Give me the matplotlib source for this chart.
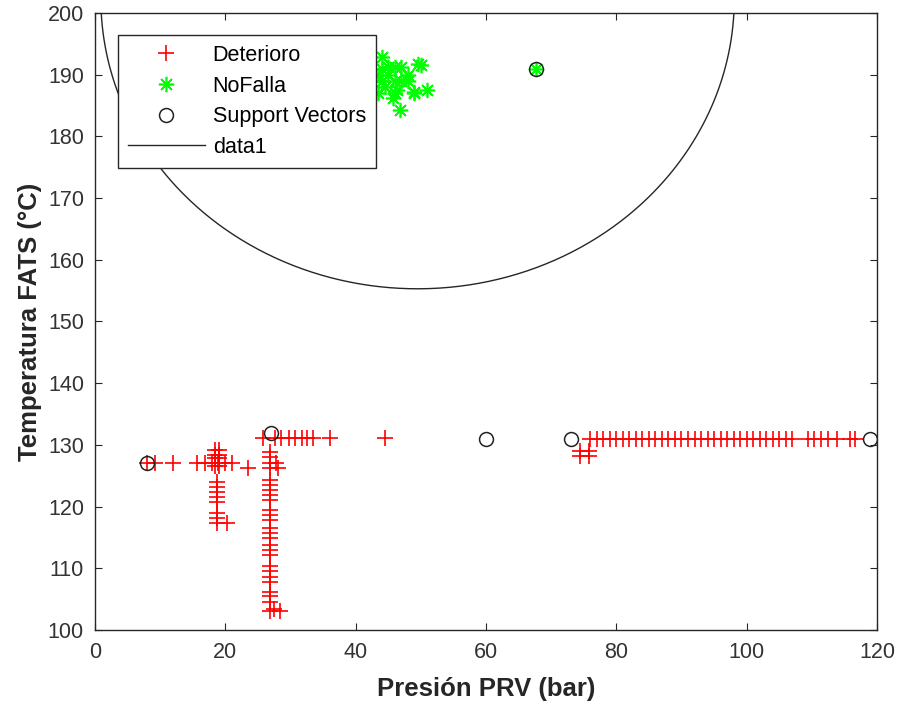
import numpy as np
import matplotlib
matplotlib.use("Agg")
import matplotlib.pyplot as plt

plt.rcParams['font.family'] = ['Liberation Sans', 'DejaVu Sans']

# Deterioro (red +)
det_x = [8, 9.2, 12, 15.6, 16.9, 17.9, 18.9, 19.9, 21,
         18.4, 19.1, 18.4, 19.1, 18.4, 19.1, 18.4, 19.1,
         18.7, 18.7, 18.7, 18.7, 18.7, 18.7, 18.7, 18.7, 20.2,
         23.5,
         25.8, 27.6, 28.6, 29.7, 30.7, 31.7, 32.5, 33.5, 36.1, 44.5,
         26.9, 26.9, 26.9, 26.9, 26.9, 26.9, 26.9, 26.9, 26.9, 26.9,
         26.9, 26.9, 26.9, 26.9, 26.9, 26.9, 26.9, 26.9, 26.9, 26.9,
         26.9, 26.9, 26.9, 26.9, 26.9, 26.9, 27.8, 28.1, 28.4, 27.4,
         76, 77, 78, 79, 80, 81, 82, 83, 84, 85, 86, 87, 88, 89, 90, 91,
         92, 93, 94, 95, 96, 97, 98, 99, 100, 101, 102, 103, 104, 105,
         106, 107, 109.4, 110.4, 111.4, 112.5, 113.8, 115.8, 116.6,
         74.5, 75.8, 74.5, 75.8]
det_y = [127, 127, 127, 127, 127, 127, 127, 127, 127,
         129.2, 129.2, 128.4, 128.4, 127.8, 127.8, 126.5, 126.5,
         124, 123.2, 122.4, 121.6, 120.8, 118.9, 118.1, 117.3, 117.3,
         126.2,
         131.1, 131.1, 131.1, 131.1, 131.1, 131.1, 131.1, 131.1, 131.1, 131.1,
         128.9, 128.1, 127.0, 126.2, 124.3, 123.5, 122.7, 121.9, 121.1, 119.4,
         118.6, 117.8, 116.5, 115.7, 114.9, 113.8, 113.0, 112.2, 110.3, 109.5,
         108.6, 107.8, 106.2, 105.5, 104.6, 103.0, 127.0, 126.2, 103.0, 103.4,
         131, 131, 131, 131, 131, 131, 131, 131, 131, 131, 131, 131, 131, 131, 131, 131,
         131, 131, 131, 131, 131, 131, 131, 131, 131, 131, 131, 131, 131, 131,
         131, 131, 131, 131, 131, 131, 131, 131, 131,
         129, 129, 128.2, 128.2]

# NoFalla (green *)
nof_x = [44, 44, 44, 43.5, 45, 46, 47, 48, 49.6, 50, 45, 46, 47, 48,
         46.3, 46, 48.9, 50.9, 49, 45.8, 46.8, 44.5, 43.5, 67.7]
nof_y = [192.9, 191, 189, 187, 191.3, 191.3, 191.3, 190, 191.8, 191.5, 190, 189, 189, 188.9,
         187.5, 187, 187.2, 187.5, 187, 186.2, 184.3, 188, 190, 191]

# support vectors
sv_x = [8, 27, 60, 73, 119, 67.7]
sv_y = [127, 132, 131, 131, 131, 191]

# decision boundary (ellipse): centre, semi-axes
bnd_cx, bnd_cy = 49.5, 202.3
bnd_a, bnd_b = 48.6, 47.0

fig = plt.figure(figsize=(8.98, 7.1), dpi=100)
ax = fig.add_axes([0.1058, 0.1127, 0.8708, 0.869])

ax.plot(det_x, det_y, '+', color='red', markersize=11, markeredgewidth=1.2,
        label='Deterioro', linestyle='none')
ax.plot(nof_x, nof_y, marker=(8, 2, 0), color='#00ff00', markersize=11,
        markeredgewidth=1.2, label='NoFalla', linestyle='none')
ax.plot(sv_x, sv_y, 'o', markerfacecolor='none', markeredgecolor='#222222',
        markersize=10, markeredgewidth=1.1, label='Support Vectors', linestyle='none')

t = np.linspace(0, 2 * np.pi, 800)
ax.plot(bnd_cx + bnd_a * np.cos(t), bnd_cy + bnd_b * np.sin(t),
        color='#262626', lw=1.0, label='data1')

ax.set_xlim(0, 120)
ax.set_ylim(100, 200)
ax.set_xticks(range(0, 121, 20))
ax.set_yticks(range(100, 201, 10))
ax.tick_params(direction='in', top=True, right=True, labelsize=15.5,
               colors='#262626', labelcolor='#333333', length=5)
ax.tick_params(axis='x', pad=9)
ax.tick_params(axis='y', pad=8)
for s in ax.spines.values():
    s.set_color('#262626')
    s.set_linewidth(1.0)

ax.set_xlabel('Presión PRV (bar)', fontsize=18.5, fontweight='bold',
              color='#262626', labelpad=10)
ax.set_ylabel('Temperatura FATS (°C)', fontsize=18.5, fontweight='bold',
              color='#262626', labelpad=4)

leg = ax.legend(loc='upper left', bbox_to_anchor=(0.0294, 0.964), fontsize=15.5,
                frameon=True, fancybox=False, edgecolor='#262626', framealpha=1,
                borderaxespad=0, handlelength=3.6, handletextpad=0.35,
                borderpad=0.45, labelspacing=0.45)
leg.get_frame().set_linewidth(1.0)

fig.savefig('out.png', dpi=100)
